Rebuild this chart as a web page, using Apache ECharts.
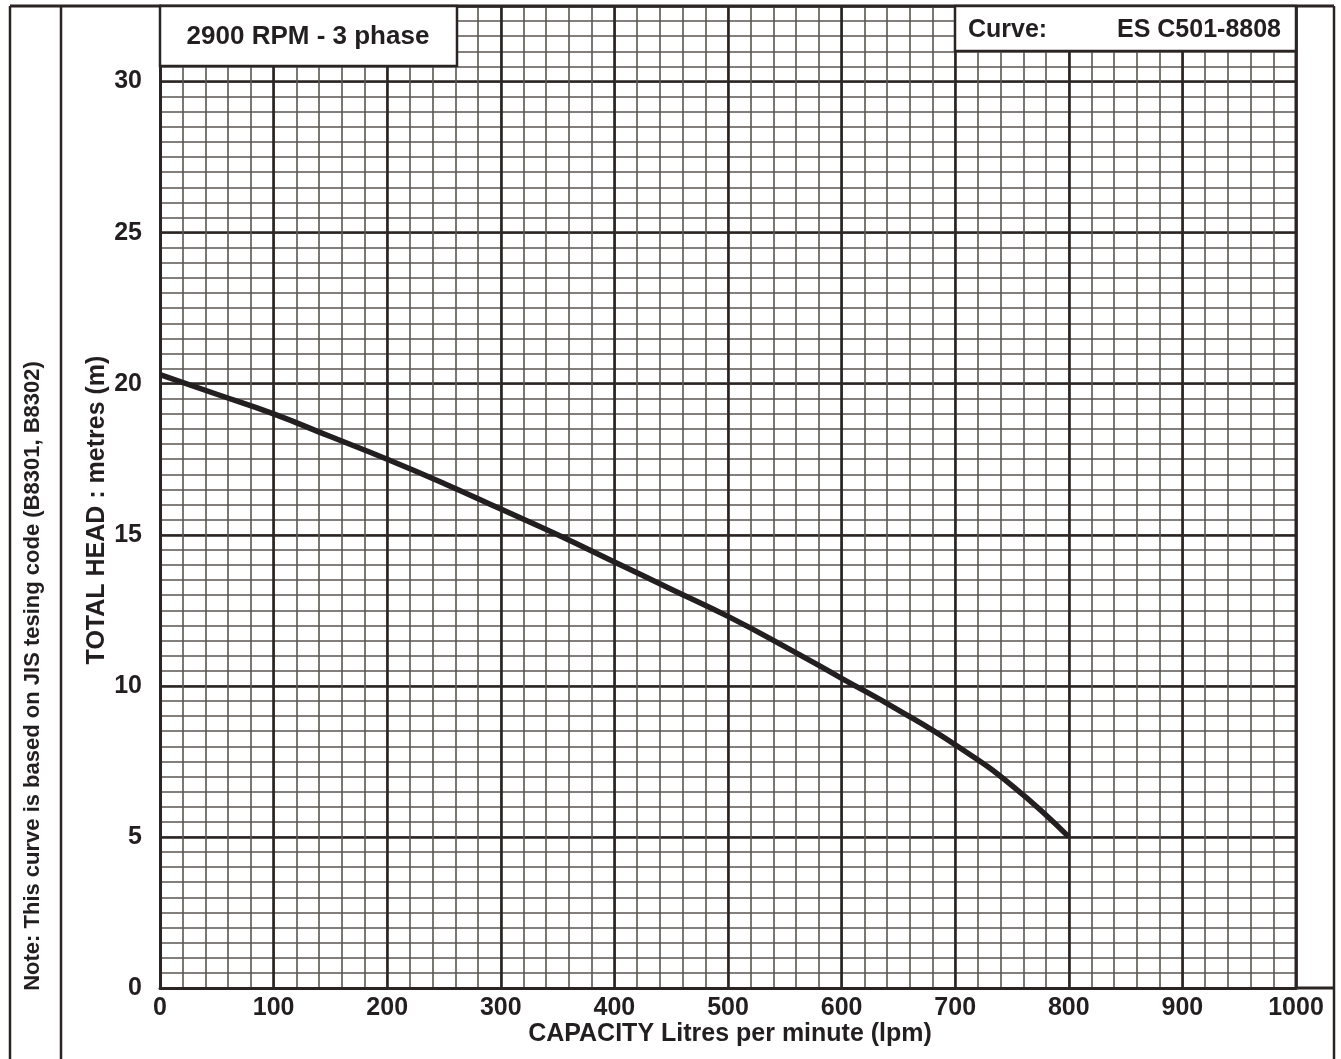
<!DOCTYPE html>
<html>
<head>
<meta charset="utf-8">
<script src="https://cdn.jsdelivr.net/npm/echarts@6/dist/echarts.min.js"></script>
<style>
html,body{margin:0;padding:0;background:#fff;}
#chart{width:1341px;height:1059px;}
</style>
</head>
<body>
<div id="chart"></div>
<script>
// Data
var capacity = [0, 50, 100, 150, 200, 250, 300, 350, 400, 450, 500, 550, 600, 650, 700, 750, 800];
var head     = [20.3, 19.65, 19.0, 18.25, 17.5, 16.7, 15.85, 15.0, 14.1, 13.2, 12.3, 11.3, 10.25, 9.2, 8.05, 6.7, 5.0];
var xTickLabels = ['0','100','200','300','400','500','600','700','800','900','1000'];
var yTickLabels = ['0','5','10','15','20','25','30'];

var DARK = '#2a2522';
var MINOR = '#5a5550';
var FONT = 'Liberation Sans, Arial, sans-serif';

var chart = echarts.init(document.getElementById('chart'));
var points = capacity.map(function(c, i){ return [c, head[i]]; });

chart.setOption({
  animation: false,
  grid: {left: 160, right: 45, top: 6, bottom: 71, containLabel: false, outerBoundsMode: 'none'},
  xAxis: [
    {type: 'value', min: 0, max: 1000, interval: 20, position: 'bottom',
     axisLine: {show: false}, axisTick: {show: false}, axisLabel: {show: false},
     splitLine: {show: true, lineStyle: {color: MINOR, width: 1.6}}},
    {type: 'value', min: 0, max: 1000, interval: 100, position: 'bottom',
     axisLine: {show: true, onZero: false, lineStyle: {color: DARK, width: 3}},
     axisTick: {show: false},
     axisLabel: {show: true, margin: 8, color: '#231f20', fontFamily: FONT, fontWeight: 'bold', fontSize: 25,
       formatter: function(v){ var i = xTickLabels.indexOf(String(v)); return i >= 0 ? xTickLabels[i] : ''; }},
     splitLine: {show: true, lineStyle: {color: DARK, width: 2.6}}}
  ],
  yAxis: [
    {type: 'value', min: 0, max: 32.5, interval: 0.5, position: 'left',
     axisLine: {show: false}, axisTick: {show: false}, axisLabel: {show: false},
     splitLine: {show: true, lineStyle: {color: MINOR, width: 1.6}}},
    {type: 'value', min: 0, max: 32.5, interval: 5, position: 'left',
     axisLine: {show: true, onZero: false, lineStyle: {color: DARK, width: 3}},
     axisTick: {show: false},
     axisLabel: {show: true, margin: 18, color: '#231f20', fontFamily: FONT, fontWeight: 'bold', fontSize: 25,
       showMaxLabel: false,
       formatter: function(v){ var i = yTickLabels.indexOf(String(v)); return i >= 0 ? yTickLabels[i] : ''; }},
     splitLine: {show: true, lineStyle: {color: DARK, width: 2.6}}}
  ],
  series: [{
    type: 'line', xAxisIndex: 1, yAxisIndex: 1, data: points, smooth: true,
    showSymbol: false, lineStyle: {color: '#231f20', width: 5.5}, z: 5
  }],
  graphic: [
    // outer frame
    {type: 'line', shape: {x1: 10, y1: 6, x2: 1334, y2: 6}, style: {stroke: DARK, lineWidth: 3}, z: 10},
    {type: 'line', shape: {x1: 10, y1: 6, x2: 10, y2: 1059}, style: {stroke: DARK, lineWidth: 2.5}, z: 10},
    {type: 'line', shape: {x1: 61, y1: 6, x2: 61, y2: 1059}, style: {stroke: DARK, lineWidth: 2.5}, z: 10},
    {type: 'line', shape: {x1: 1334, y1: 6, x2: 1334, y2: 1059}, style: {stroke: DARK, lineWidth: 2.5}, z: 10},
    {type: 'line', shape: {x1: 1296, y1: 988, x2: 1334, y2: 988}, style: {stroke: DARK, lineWidth: 3}, z: 10},
    {type: 'line', shape: {x1: 1296, y1: 6, x2: 1296, y2: 988}, style: {stroke: DARK, lineWidth: 3}, z: 10},
    // RPM box
    {type: 'rect', shape: {x: 160, y: 6, width: 297, height: 60}, style: {fill: '#fff', stroke: DARK, lineWidth: 2.5}, z: 20},
    {type: 'text', x: 308, y: 37, z: 21, style: {text: '2900 RPM - 3 phase', fill: '#231f20', font: 'bold 26px ' + FONT, align: 'center', verticalAlign: 'middle'}},
    // Curve box
    {type: 'rect', shape: {x: 955, y: 6, width: 341, height: 45}, style: {fill: '#fff', stroke: DARK, lineWidth: 2.5}, z: 20},
    {type: 'text', x: 968, y: 30, z: 21, style: {text: 'Curve:', fill: '#231f20', font: 'bold 25px ' + FONT, align: 'left', verticalAlign: 'middle'}},
    {type: 'text', x: 1281, y: 30, z: 21, style: {text: 'ES C501-8808', fill: '#231f20', font: 'bold 25px ' + FONT, align: 'right', verticalAlign: 'middle'}},
    // Axis names
    {type: 'text', x: 730, y: 1034, z: 21, style: {text: 'CAPACITY Litres per minute (lpm)', fill: '#231f20', font: 'bold 25px ' + FONT, align: 'center', verticalAlign: 'middle'}},
    {type: 'text', x: 97, y: 510, rotation: Math.PI / 2, z: 21, style: {text: 'TOTAL HEAD : metres (m)', fill: '#231f20', font: 'bold 25px ' + FONT, align: 'center', verticalAlign: 'middle'}},
    // Note
    {type: 'text', x: 33, y: 676, rotation: Math.PI / 2, z: 21, style: {text: 'Note: This curve is based on JIS tesing code (B8301, B8302)', fill: '#231f20', font: 'bold 22px ' + FONT, align: 'center', verticalAlign: 'middle'}}
  ]
});
</script>
</body>
</html>
